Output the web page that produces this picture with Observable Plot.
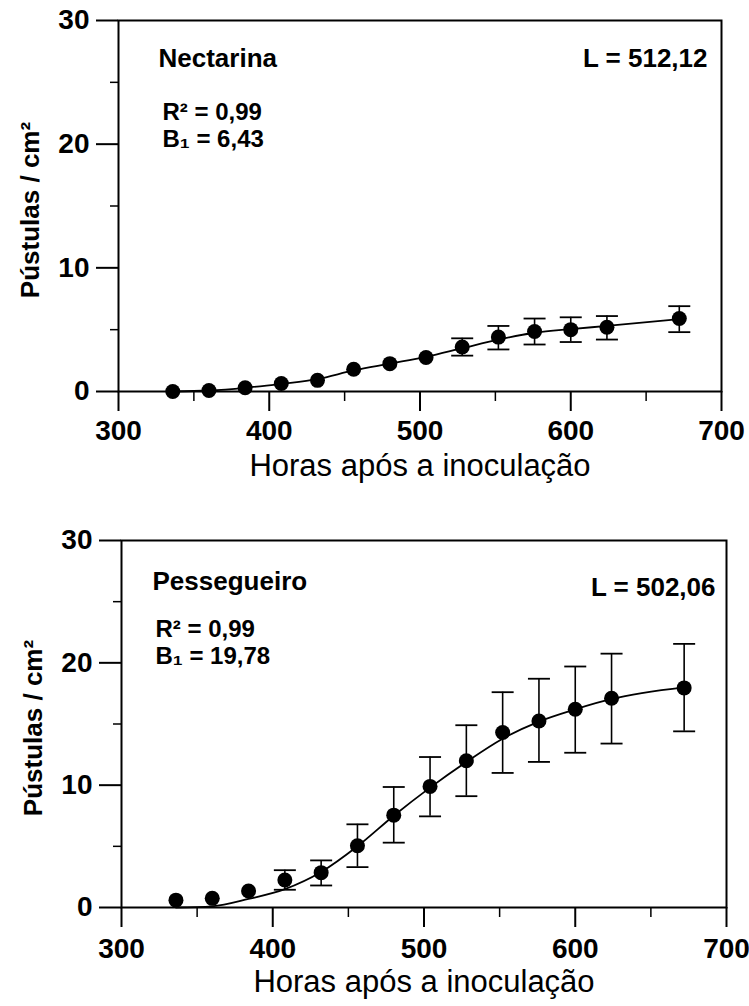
<!DOCTYPE html>
<html>
<head>
<meta charset="utf-8">
<script src="https://cdn.jsdelivr.net/npm/d3@7"></script>
<script src="https://cdn.jsdelivr.net/npm/@observablehq/plot@0.6"></script>
<style>
  html, body { margin: 0; padding: 0; background: #fff; }
  #chart svg { display: block; }
</style>
</head>
<body>
<div id="chart"></div>
<script>
// ---- data ----
const hours = [336, 360, 384, 408, 432, 456, 480, 504, 528, 552, 576, 600, 624, 672];

const nectarinaMean = [0, 0.08, 0.3, 0.65, 0.9, 1.8, 2.25, 2.75, 3.6, 4.4, 4.85, 5.0, 5.2, 5.9];
const nectarinaLow  = [null, null, null, null, null, null, null, null, 2.9, 3.4, 3.8, 4.0, 4.2, 4.8];
const nectarinaHigh = [null, null, null, null, null, null, null, null, 4.3, 5.3, 5.9, 6.0, 6.1, 6.9];
const nectarinaFit  = [0, 0.08, 0.3, 0.62, 1.0, 1.7, 2.25, 2.8, 3.5, 4.2, 4.75, 5.05, 5.3, 5.85];

const pessegueiroMean = [0.6, 0.75, 1.35, 2.25, 2.85, 5.05, 7.55, 9.9, 12.0, 14.3, 15.25, 16.2, 17.1, 17.95];
const pessegueiroLow  = [null, null, null, 1.45, 1.8, 3.3, 5.3, 7.45, 9.1, 11.0, 11.9, 12.65, 13.4, 14.4];
const pessegueiroHigh = [null, null, null, 3.05, 3.85, 6.8, 9.85, 12.3, 14.9, 17.6, 18.7, 19.7, 20.75, 21.55];
const pessegueiroFit  = [0, 0.1, 0.7, 1.5, 2.9, 5.0, 7.5, 9.8, 11.9, 13.8, 15.2, 16.2, 17.05, 18.0];

const xTicks = [300, 400, 500, 600, 700];
const xMinorTicks = [350, 450, 550, 650];
const yTicks = [0, 10, 20, 30];
const yMinorTicks = [5, 15, 25];

const xTitle = "Horas após a inoculação";
const yTitle = "Pústulas / cm²";

const panels = [
  {name: "Nectarina", L: "L = 512,12", R2: "R² = 0,99", B1: "B₁ = 6,43",
   mean: nectarinaMean, low: nectarinaLow, high: nectarinaHigh, fit: nectarinaFit},
  {name: "Pessegueiro", L: "L = 502,06", R2: "R² = 0,99", B1: "B₁ = 19,78",
   mean: pessegueiroMean, low: pessegueiroLow, high: pessegueiroHigh, fit: pessegueiroFit}
];

// ---- layout (styles only) ----
const layouts = [
  {height: 490, marginTop: 20, marginBottom: 99, marginLeft: 118, marginRight: 28, xPad: 9,
   nameD: [40, 38], LD: [-14, 38], statsD: [44, 104], yTitleDy: 4},
  {height: 516, marginTop: 50, marginBottom: 99, marginLeft: 121, marginRight: 23, xPad: 11,
   nameD: [31, 41], LD: [-11, 47], statsD: [34, 101], yTitleDy: 4}
];

const capSymbol = {
  draw(ctx, size) {
    const w = Math.sqrt(size / Math.PI);
    ctx.moveTo(-w, 0);
    ctx.lineTo(w, 0);
  }
};

const font = "'Liberation Sans', Arial, Helvetica, sans-serif";
const container = document.getElementById("chart");

panels.forEach((p, k) => {
  const lay = layouts[k];
  const rows = hours.map((h, i) => ({h, mean: p.mean[i], lo: p.low[i], hi: p.high[i], fit: p.fit[i]}));
  const err = rows.filter(d => d.lo != null && d.hi != null);

  const chart = Plot.plot({
    width: 749,
    height: lay.height,
    marginTop: lay.marginTop,
    marginBottom: lay.marginBottom,
    marginLeft: lay.marginLeft,
    marginRight: lay.marginRight,
    style: {fontFamily: font, background: "white", color: "black", overflow: "visible"},
    x: {domain: [300, 700], inset: 0},
    y: {domain: [0, 30], inset: 0},
    marks: [
      Plot.frame({stroke: "black", strokeWidth: 2}),
      Plot.axisY({ticks: yMinorTicks, tickSize: 8, tickFormat: () => "", label: null, strokeWidth: 1.5}),
      Plot.axisY({ticks: yTicks, tickSize: 22, tickPadding: 7, label: null, fontSize: 28, fontWeight: "bold", strokeWidth: 2}),
      Plot.axisX({ticks: xMinorTicks, tickSize: 10, tickFormat: () => "", label: null, strokeWidth: 1.5}),
      Plot.axisX({ticks: xTicks, tickSize: 20, tickPadding: lay.xPad, label: null, fontSize: 28, fontWeight: "bold", strokeWidth: 2}),
      Plot.line(rows, {x: "h", y: "fit", curve: "monotone-x", stroke: "black", strokeWidth: 1.8}),
      Plot.ruleX(err, {x: "h", y1: "lo", y2: "hi", stroke: "black", strokeWidth: 1.6}),
      Plot.dot(err, {x: "h", y: "lo", symbol: capSymbol, r: 11, stroke: "black", fill: "none", strokeWidth: 1.8}),
      Plot.dot(err, {x: "h", y: "hi", symbol: capSymbol, r: 11, stroke: "black", fill: "none", strokeWidth: 1.8}),
      Plot.dot(rows, {x: "h", y: "mean", r: 7.5, fill: "black", stroke: "none"}),
      Plot.text([p.name], {frameAnchor: "top-left", dx: lay.nameD[0], dy: lay.nameD[1], textAnchor: "start", lineAnchor: "middle", fontSize: 26, fontWeight: "bold"}),
      Plot.text([p.L], {frameAnchor: "top-right", dx: lay.LD[0], dy: lay.LD[1], textAnchor: "end", lineAnchor: "middle", fontSize: 26, fontWeight: "bold"}),
      Plot.text([p.R2 + "\n" + p.B1], {frameAnchor: "top-left", dx: lay.statsD[0], dy: lay.statsD[1], textAnchor: "start", lineAnchor: "middle", lineHeight: 1.15, fontSize: 24, fontWeight: "bold"}),
      Plot.text([xTitle], {frameAnchor: "bottom", dy: 75, textAnchor: "middle", lineAnchor: "middle", fontSize: 31}),
      Plot.text([yTitle], {frameAnchor: "left", dx: -88, dy: lay.yTitleDy, rotate: -90, textAnchor: "middle", lineAnchor: "middle", fontSize: 26, fontWeight: "bold"})
    ]
  });
  container.appendChild(chart);
});
</script>
</body>
</html>
